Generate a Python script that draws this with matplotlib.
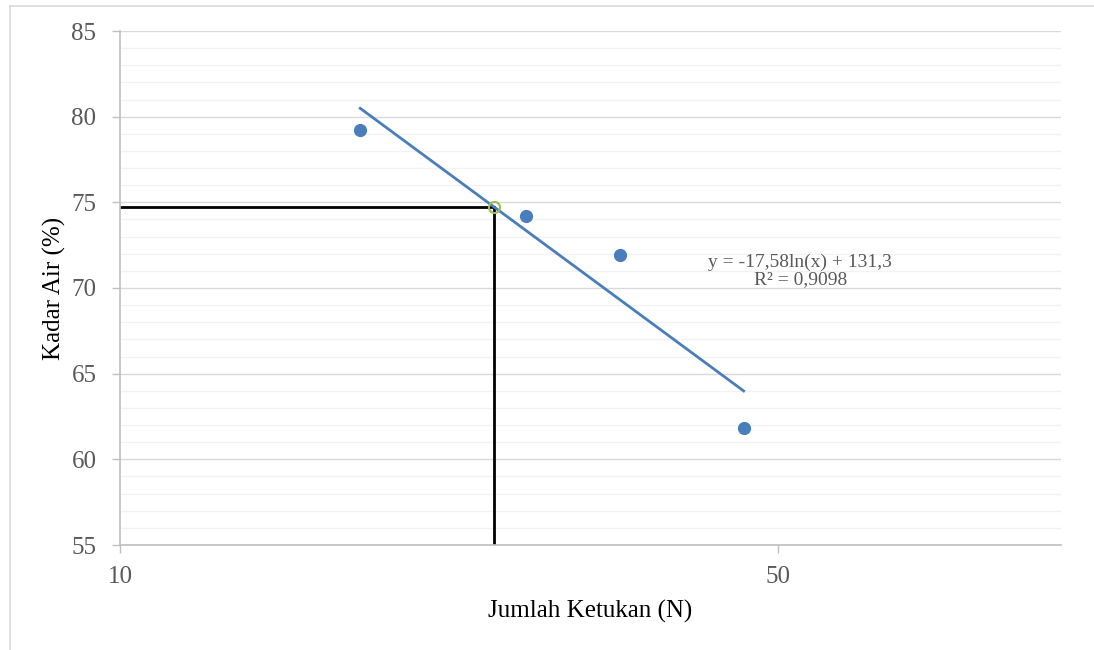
import numpy as np
import matplotlib.pyplot as plt
from matplotlib.lines import Line2D
from matplotlib.ticker import FixedLocator, NullLocator, MultipleLocator

plt.rcParams["font.family"] = ["Liberation Serif", "DejaVu Serif"]

# data
ketukan = [18, 27, 34, 46]
kadar_air = [79.2, 74.2, 71.9, 61.8]
trend_a, trend_b = -17.58, 131.3
n_target = 25
ll_value = 74.7
x_ticks = [10, 50]
y_ticks = [55, 60, 65, 70, 75, 80, 85]

BLUE = "#4A7EBB"
GREY_TXT = "#595959"

fig = plt.figure(figsize=(10.94, 6.5), dpi=100)
ax = fig.add_axes([120 / 1094, 1 - 545 / 650, (1061 - 120) / 1094, (545 - 31) / 650])

ax.set_xscale("log")
ax.set_xlim(10, 100)
ax.set_ylim(55, 85)
ax.xaxis.set_major_locator(FixedLocator(x_ticks))
ax.xaxis.set_minor_locator(NullLocator())
ax.set_xticklabels([str(v) for v in x_ticks])
ax.yaxis.set_major_locator(FixedLocator(y_ticks))
ax.yaxis.set_minor_locator(MultipleLocator(1))

ax.grid(True, which="major", axis="y", color="#D9D9D9", linewidth=1.0, zorder=0)
ax.grid(True, which="minor", axis="y", color="#F2F2F2", linewidth=1.0, zorder=0)
ax.set_axisbelow(True)

for side in ["top", "right"]:
    ax.spines[side].set_visible(False)
for side in ["left", "bottom"]:
    ax.spines[side].set_color("#BFBFBF")
    ax.spines[side].set_linewidth(1.2)

ax.tick_params(axis="both", which="major", colors="#BFBFBF", labelcolor=GREY_TXT,
               labelsize=18, length=6, width=1)
ax.tick_params(axis="y", which="minor", length=0)
ax.tick_params(axis="x", pad=9)
ax.tick_params(axis="y", pad=11)

# guide lines for liquid limit
ax.plot([10, n_target], [ll_value, ll_value], color="black", linewidth=2, zorder=2)
ax.plot([n_target, n_target], [55, ll_value], color="black", linewidth=2, zorder=2)

# logarithmic trendline
xt = np.linspace(min(ketukan), max(ketukan), 100)
ax.plot(xt, trend_a * np.log(xt) + trend_b, color=BLUE, linewidth=2, zorder=3)

ax.plot(ketukan, kadar_air, "o", color=BLUE, markersize=8.5, zorder=4)
ax.plot([n_target], [ll_value], "o", markerfacecolor="none", markeredgecolor="#9BBB59",
        markersize=8, markeredgewidth=1.5, zorder=5)

ax.text(0.723, 0.533, "y = -17,58ln(x) + 131,3\nR² = 0,9098", transform=ax.transAxes,
        ha="center", va="center", fontsize=14, color=GREY_TXT, linespacing=1.0,
        zorder=6)

ax.set_xlabel("Jumlah Ketukan (N)", fontsize=18, color="black", labelpad=9)
ax.set_ylabel("Kadar Air (%)", fontsize=18, color="black", labelpad=4)

# outer chart border (top and left visible)
fig.add_artist(Line2D([10 / 1094, 1], [1 - 6 / 650, 1 - 6 / 650], transform=fig.transFigure,
                      color="#D9D9D9", linewidth=1.2))
fig.add_artist(Line2D([10 / 1094, 10 / 1094], [0, 1 - 6 / 650], transform=fig.transFigure,
                      color="#D9D9D9", linewidth=1.2))

fig.savefig("out.png", dpi=100)
